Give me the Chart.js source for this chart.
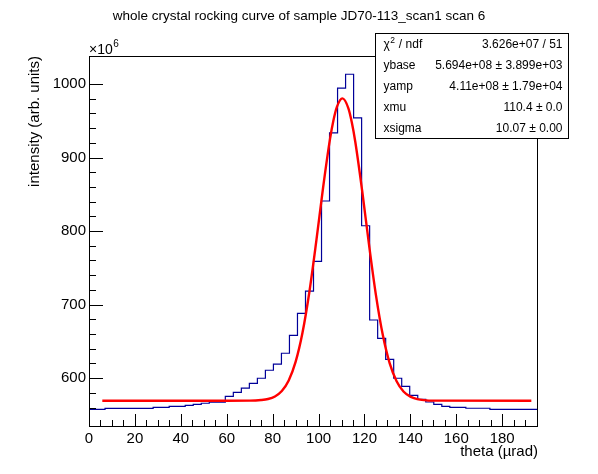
<!DOCTYPE html>
<html>
<head>
<meta charset="utf-8">
<script src="https://cdn.jsdelivr.net/npm/chart.js@4.4.1/dist/chart.umd.min.js"></script>
<style>
  html, body { margin: 0; padding: 0; background: #fff; }
  #wrap { width: 598px; height: 474px; }
</style>
</head>
<body>
<div id="wrap"><canvas id="rocking" width="598" height="474"></canvas></div>
<script>
const titleText = "whole crystal rocking curve of sample JD70-113_scan1 scan 6";
const xTitle = "theta (\u00b5rad)";
const yTitle = "intensity (arb. units)";

// axis ranges (y in units of 10^6)
const xMin = 0, xMax = 195.6;
const yMin = 535, yMax = 1038;
const binWidth = 3.493;

// histogram bin contents, 56 bins starting at xMin (x10^6)
const counts = [
  557.7, 557.7, 559.0, 559.0, 559.0, 559.0, 559.0, 559.0,
  560.4, 560.4, 561.8, 561.8, 563.1, 564.5, 565.9, 567.5,
  567.5, 575.4, 580.8, 586.5, 593.0, 599.9, 610.8, 619.0,
  633.9, 658.3, 688.2, 718.3, 758.9, 840.9, 933.4, 994.2,
  1013.2, 953.8, 807.2, 679.1, 654.2, 625.7, 599.9, 589.0,
  576.7, 571.3, 567.6, 564.5, 561.8, 560.4, 560.4, 559.1,
  559.1, 559.1, 557.7, 557.7, 557.7, 557.7, 557.7, 557.7
];

// fitted curve (x10^6)
const fitX = [5.8, 60, 70, 75, 78, 81, 84, 87, 90, 93, 96, 99, 102, 105, 106.5, 108, 110.4,
              113, 114.5, 116, 119, 122, 125, 128, 131, 134, 137, 140, 143, 146, 150, 192.7];
const fitY = [569.4, 569.4, 569.5, 570.3, 571.7, 575.2, 582.6, 597.0, 622.2, 661.8, 717.2, 785.9, 859.6, 925.3, 950.7, 968.9, 980.4,
              966.9, 947.7, 921.5, 854.8, 781.1, 713.0, 658.6, 620.1, 595.8, 581.9, 574.9, 571.6, 570.2, 569.5, 569.4];

const xTickLabels = [0, 20, 40, 60, 80, 100, 120, 140, 160, 180];
const yTickLabels = [600, 700, 800, 900, 1000];

const statsNames = ["ndf", "ybase", "yamp", "xmu", "xsigma"];
const statsValues = ["3.626e+07 / 51", "5.694e+08 \u00b1 3.899e+03", "4.11e+08 \u00b1 1.79e+04",
                     "110.4 \u00b1 0.0", "10.07 \u00b1 0.00"];

const FONT = "'Liberation Sans', Arial, Helvetica, sans-serif";

// histogram outline: each bin as a flat segment
const histPoints = [];
counts.forEach((c, i) => {
  histPoints.push({ x: xMin + i * binWidth, y: c });
  histPoints.push({ x: xMin + (i + 1) * binWidth, y: c });
});
const fitPoints = fitX.map((x, i) => ({ x: x, y: fitY[i] }));

const isMult = (v, s) => Math.abs(v / s - Math.round(v / s)) < 1e-6;

const rootDecor = {
  id: "rootDecor",
  afterDraw(chart) {
    const { ctx, chartArea: a, scales: { x, y } } = chart;
    ctx.save();
    ctx.strokeStyle = "#000";
    ctx.lineWidth = 1;
    ctx.strokeRect(a.left + 0.5, a.top + 0.5, a.right - a.left - 1, a.bottom - a.top);

    // ticks inside the frame, ROOT style
    ctx.beginPath();
    y.ticks.forEach(t => {
      if (!isMult(t.value, 20)) return;
      const py = Math.round(y.getPixelForValue(t.value)) + 0.5;
      const len = yTickLabels.includes(t.value) ? 14 : 7;
      ctx.moveTo(a.left, py);
      ctx.lineTo(a.left + len, py);
    });
    x.ticks.forEach(t => {
      if (!isMult(t.value, 5)) return;
      const px = Math.round(x.getPixelForValue(t.value)) + 0.5;
      const len = xTickLabels.includes(t.value) ? 12 : 6;
      ctx.moveTo(px, a.bottom);
      ctx.lineTo(px, a.bottom - len);
    });
    ctx.stroke();

    // exponent label
    ctx.fillStyle = "#000";
    ctx.textAlign = "left";
    ctx.textBaseline = "alphabetic";
    ctx.font = "14px " + FONT;
    ctx.fillText("\u00d710", a.left, 54);
    const w10 = ctx.measureText("\u00d710").width;
    ctx.font = "10px " + FONT;
    ctx.fillText("6", a.left + w10 + 0.5, 47);

    // title
    ctx.font = "13.5px " + FONT;
    ctx.textAlign = "center";
    ctx.fillText(titleText, 299, 20);

    // stats box
    const b = { l: 375.5, t: 33.5, r: 568.5, bt: 138.5 };
    ctx.fillStyle = "#fff";
    ctx.fillRect(b.l, b.t, b.r - b.l, b.bt - b.t);
    ctx.strokeRect(b.l, b.t, b.r - b.l, b.bt - b.t);
    ctx.fillStyle = "#000";
    const rowH = (b.bt - b.t) / statsNames.length;
    ctx.textBaseline = "middle";
    statsNames.forEach((name, i) => {
      const cy = b.t + rowH * (i + 0.5) + 0.5;
      ctx.font = "12px " + FONT;
      ctx.textAlign = "left";
      if (i === 0) {
        ctx.fillText("\u03c7", b.l + 8, cy);
        const wc = ctx.measureText("\u03c7").width;
        ctx.font = "8.5px " + FONT;
        ctx.fillText("2", b.l + 8 + wc + 0.5, cy - 4);
        const w2 = ctx.measureText("2").width;
        ctx.font = "12px " + FONT;
        ctx.fillText(" / " + name, b.l + 8 + wc + w2 + 1, cy);
      } else {
        ctx.fillText(name, b.l + 8, cy);
      }
      ctx.textAlign = "right";
      ctx.fillText(statsValues[i], b.r - 6, cy);
    });
    ctx.restore();
  }
};

const chart = new Chart(document.getElementById("rocking"), {
  type: "scatter",
  data: {
    datasets: [
      {
        label: "fit",
        data: fitPoints,
        showLine: true,
        borderColor: "#ff0000",
        borderWidth: 2.4,
        pointRadius: 0,
        cubicInterpolationMode: "monotone",
        fill: false
      },
      {
        label: "hist",
        data: histPoints,
        showLine: true,
        borderColor: "#000099",
        borderWidth: 1.2,
        pointRadius: 0,
        tension: 0,
        fill: false
      }
    ]
  },
  plugins: [rootDecor],
  options: {
    responsive: false,
    animation: false,
    events: [],
    layout: { padding: { left: 0, right: 60, top: 56, bottom: 0 } },
    plugins: {
      legend: { display: false },
      tooltip: { enabled: false }
    },
    scales: {
      x: {
        type: "linear",
        min: xMin,
        max: xMax,
        afterFit: (s) => { s.height = 48; },
        grid: { display: false, drawTicks: false },
        border: { display: false },
        ticks: {
          stepSize: 5,
          autoSkip: false,
          maxRotation: 0,
          padding: 4,
          color: "#000",
          font: { family: FONT, size: 15 },
          callback: (v) => xTickLabels.includes(v) ? String(v) : ""
        },
        title: {
          display: true,
          text: xTitle,
          align: "end",
          color: "#000",
          font: { family: FONT, size: 15 },
          padding: { top: 0, bottom: 13 }
        }
      },
      y: {
        type: "linear",
        min: yMin,
        max: yMax,
        afterFit: (s) => { s.width = 89; },
        grid: { display: false, drawTicks: false },
        border: { display: false },
        ticks: {
          stepSize: 20,
          autoSkip: false,
          padding: 3,
          color: "#000",
          font: { family: FONT, size: 15 },
          callback: (v) => yTickLabels.includes(v) ? String(v) : ""
        },
        title: {
          display: true,
          text: yTitle,
          align: "end",
          color: "#000",
          font: { family: FONT, size: 15 },
          padding: { top: 26, bottom: 0 }
        }
      }
    }
  }
});
</script>
</body>
</html>
